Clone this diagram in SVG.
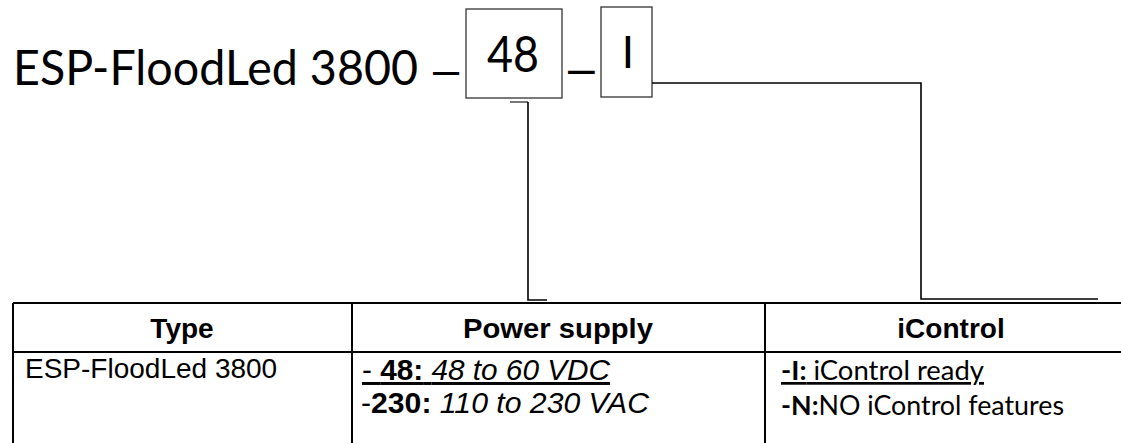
<svg xmlns="http://www.w3.org/2000/svg" width="1121" height="443" viewBox="0 0 1121 443">
<style>
.t{font-family:Lato,"Open Sans",sans-serif;fill:#000}
.a{font-family:"Liberation Sans",Arial,sans-serif;fill:#000}
.box{fill:#fff;stroke:#333;stroke-width:1.3}
.conn{fill:none;stroke:#000;stroke-width:1.6}
.stub{fill:none;stroke:#777;stroke-width:2}
.grid{stroke:#000;stroke-width:2;fill:none}
.b{font-weight:bold}
.i{font-style:italic}
</style>
<rect width="1121" height="443" fill="#fff"/>
<g id="title">
<text class="t" x="13" y="85" font-size="48" textLength="405" lengthAdjust="spacingAndGlyphs">ESP-FloodLed 3800</text>
<text class="a" x="433" y="85" font-size="47">–</text>
<text class="a" x="568" y="85" font-size="48">–</text>
</g>
<g id="node-48">
<rect class="box" x="466" y="9" width="96" height="89"/>
<text class="t" x="513" y="72" font-size="50" text-anchor="middle" textLength="52" lengthAdjust="spacingAndGlyphs">48</text>
</g>
<g id="node-I">
<rect class="box" x="601" y="7" width="51" height="90"/>
<text class="t" x="628" y="68" font-size="44" text-anchor="middle">I</text>
</g>
<g id="connectors">
<path class="stub" d="M510,102 H528"/>
<path class="conn" d="M528,102 V300 H547" stroke-width="2"/>
<path class="conn" d="M652,83 H921 V299 H1098"/>
</g>
<g id="table">
<path class="grid" d="M13,303 H1121 M13,352 H1121 M13,303 V443 M352,303 V443 M765,303 V443"/>
<text class="a b" x="182" y="338" font-size="28" text-anchor="middle">Type</text>
<text class="a b" x="558" y="338" font-size="28" text-anchor="middle" textLength="190" lengthAdjust="spacingAndGlyphs">Power supply</text>
<text class="a b" x="951" y="338" font-size="28" text-anchor="middle">iControl</text>
<text class="a" x="25" y="378" font-size="28">ESP-FloodLed 3800</text>
<text class="a" x="362" y="380" font-size="29.5" text-decoration="underline" textLength="248" lengthAdjust="spacingAndGlyphs">- <tspan class="b">48:</tspan> <tspan class="i">48 to 60 VDC</tspan></text>
<text class="a" x="361" y="413" font-size="29.5" textLength="288" lengthAdjust="spacingAndGlyphs">-<tspan class="b">230:</tspan> <tspan class="i">110 to 230 VAC</tspan></text>
<text class="t" x="781" y="380" font-size="27" text-decoration="underline" textLength="203" lengthAdjust="spacingAndGlyphs"><tspan class="b">-I:</tspan> iControl ready</text>
<text class="t" x="781" y="415" font-size="27" textLength="283" lengthAdjust="spacingAndGlyphs"><tspan class="b">-N:</tspan>NO iControl features</text>
</g>
</svg>
